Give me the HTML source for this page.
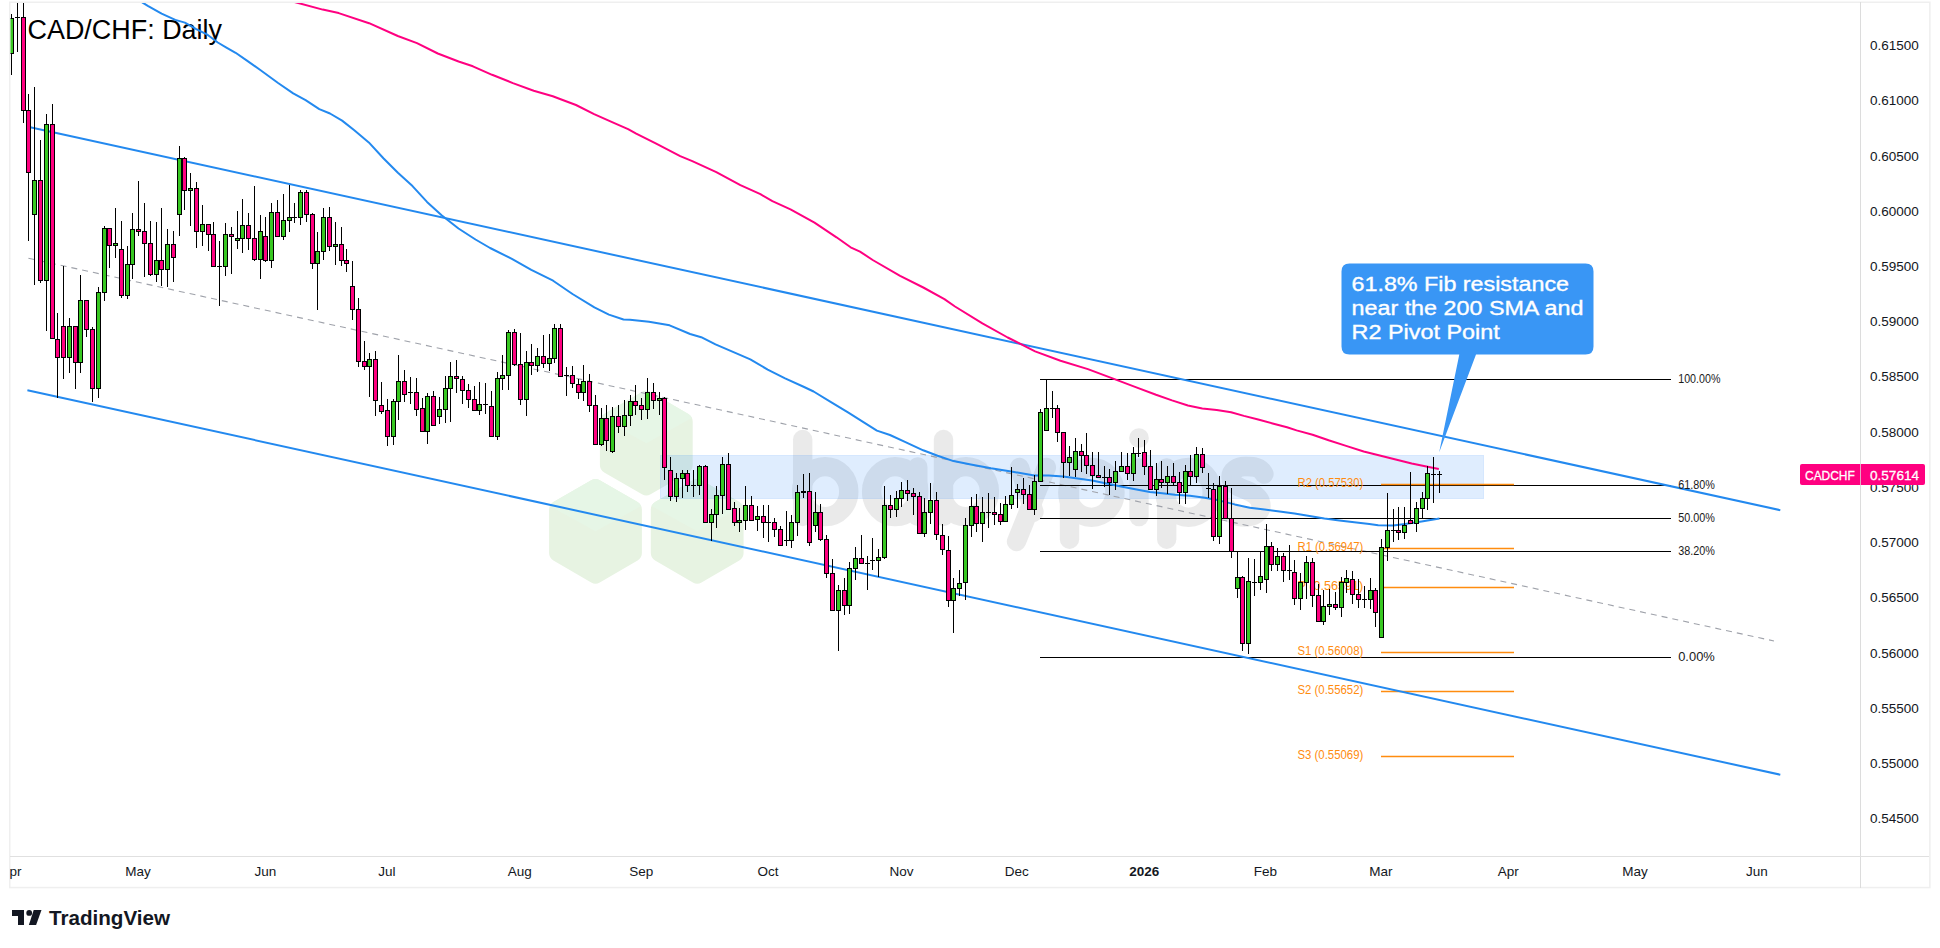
<!DOCTYPE html><html><head><meta charset="utf-8"><style>html,body{margin:0;padding:0;background:#fff;width:1940px;height:948px;overflow:hidden}svg{display:block}text{font-family:"Liberation Sans",sans-serif}</style></head><body>
<svg width="1940" height="948" viewBox="0 0 1940 948">
<defs><clipPath id="cp"><rect x="10" y="3" width="1850" height="853"/></clipPath></defs>
<rect width="1940" height="948" fill="#fff"/>
<g clip-path="url(#cp)">
<clipPath id="hx0"><path d="M642.0,392.1Q646.3,389.6 650.6,392.1L688.4,413.9Q692.7,416.4 692.7,421.4L692.7,465.0Q692.7,470.0 688.4,472.5L650.6,494.3Q646.3,496.8 642.0,494.3L604.2,472.5Q599.9,470.0 599.9,465.0L599.9,421.4Q599.9,416.4 604.2,413.9Z"/></clipPath>
<g clip-path="url(#hx0)">
<rect x="592.6999999999999" y="389.59999999999997" width="107.2" height="107.2" fill="#e7f3e2"/>
<path d="M646.3,387.6L694.7,416.4L646.3,443.2L597.9,416.4Z" fill="#e6f6e6"/>
</g>
<clipPath id="hx1"><path d="M591.2,480.2Q595.5,477.7 599.8,480.2L637.6,502.0Q641.9,504.5 641.9,509.5L641.9,553.1Q641.9,558.1 637.6,560.6L599.8,582.4Q595.5,584.9 591.2,582.4L553.4,560.6Q549.1,558.1 549.1,553.1L549.1,509.5Q549.1,504.5 553.4,502.0Z"/></clipPath>
<g clip-path="url(#hx1)">
<rect x="541.9" y="477.69999999999993" width="107.2" height="107.2" fill="#e7f3e2"/>
<path d="M595.5,475.7L643.9,504.5L595.5,531.3L547.1,504.5Z" fill="#e6f6e6"/>
</g>
<clipPath id="hx2"><path d="M692.9,480.2Q697.2,477.7 701.5,480.2L739.3,502.0Q743.6,504.5 743.6,509.5L743.6,553.1Q743.6,558.1 739.3,560.6L701.5,582.4Q697.2,584.9 692.9,582.4L655.1,560.6Q650.8,558.1 650.8,553.1L650.8,509.5Q650.8,504.5 655.1,502.0Z"/></clipPath>
<g clip-path="url(#hx2)">
<rect x="643.6" y="477.69999999999993" width="107.2" height="107.2" fill="#e7f3e2"/>
<path d="M697.2,475.7L745.6,504.5L697.2,531.3L648.8,504.5Z" fill="#e6f6e6"/>
</g>
<g opacity="0.08" stroke="#000" stroke-width="19.3" stroke-linecap="round" fill="#000"><line x1="802.7" y1="439.5" x2="802.7" y2="516.5"/><ellipse cx="825.2" cy="491.6" rx="23.6" ry="25" fill="none"/><ellipse cx="895.2" cy="491.6" rx="23.6" ry="25" fill="none"/><line x1="917.8" y1="466.9" x2="917.8" y2="516.4"/><line x1="943.5" y1="439.5" x2="943.5" y2="516.5"/><ellipse cx="965.8" cy="491.6" rx="23.6" ry="25" fill="none"/><line x1="1046.4" y1="467.5" x2="1016.5" y2="541.5"/><line x1="1019.5" y1="467.5" x2="1034" y2="512"/><line x1="1069.5" y1="467.8" x2="1069.5" y2="539.3"/><ellipse cx="1091.4" cy="492.3" rx="23.6" ry="25" fill="none"/><line x1="1139" y1="467.8" x2="1139" y2="516.6"/><circle cx="1139" cy="438" r="9.8" stroke="none"/><line x1="1166.7" y1="467.8" x2="1166.7" y2="539.3"/><ellipse cx="1188.6" cy="492.3" rx="23.6" ry="25" fill="none"/><path fill="none" d="M1264,474C1260,466 1252,466.5 1245,466.5C1237,466.5 1231,471 1231,477C1231,484 1238,487 1246,490C1255,493.5 1261,498 1261,506C1261,513 1253,517 1245,517C1237,517 1230,514 1227,508"/></g>
<text x="27.5" y="38.8" font-size="27" fill="#000" textLength="194.5" lengthAdjust="spacingAndGlyphs">CAD/CHF: Daily</text>
<rect x="660" y="455" width="824" height="44" fill="rgba(30,130,250,0.14)"/><rect x="660.5" y="455.5" width="823" height="43" fill="none" stroke="rgba(30,130,250,0.05)" stroke-width="1"/>
<line x1="28.4" y1="258.2" x2="1774" y2="641" stroke="#9fa2aa" stroke-width="1.1" stroke-dasharray="6 5"/>
<line x1="1040" y1="379.5" x2="1671" y2="379.5" stroke="#000" stroke-width="1"/>
<line x1="1040" y1="485.5" x2="1671" y2="485.5" stroke="#000" stroke-width="1"/>
<line x1="1040" y1="518.5" x2="1671" y2="518.5" stroke="#000" stroke-width="1"/>
<line x1="1040" y1="551.5" x2="1671" y2="551.5" stroke="#000" stroke-width="1"/>
<line x1="1040" y1="657.5" x2="1671" y2="657.5" stroke="#000" stroke-width="1"/>
<line x1="1381" y1="484.5" x2="1514" y2="484.5" stroke="#ff8c0f" stroke-width="1.3"/>
<line x1="1381" y1="548.5" x2="1514" y2="548.5" stroke="#ff8c0f" stroke-width="1.3"/>
<line x1="1381" y1="587.5" x2="1514" y2="587.5" stroke="#ff8c0f" stroke-width="1.3"/>
<line x1="1381" y1="652.5" x2="1514" y2="652.5" stroke="#ff8c0f" stroke-width="1.3"/>
<line x1="1381" y1="691.5" x2="1514" y2="691.5" stroke="#ff8c0f" stroke-width="1.3"/>
<line x1="1381" y1="756.5" x2="1514" y2="756.5" stroke="#ff8c0f" stroke-width="1.3"/>
<line x1="29" y1="127" x2="1780.3" y2="510.2" stroke="#2389ef" stroke-width="2"/>
<line x1="27.4" y1="390.2" x2="1780.3" y2="774.7" stroke="#2389ef" stroke-width="2"/>
<polyline points="141.7,2.1 147.8,5.8 161.6,13.7 175.3,19.9 184.9,22.6 195.8,28.8 206.8,34.3 217.8,42.5 226,47.3 235.6,52.8 246.6,60.4 260.3,70 278.1,83 293.2,93.3 305.6,100.1 319.3,109.1 330,113.5 342.1,120.6 354.3,130.3 368.8,142.4 383.4,158.2 397.9,172.8 412.5,186.1 427,201.9 441.6,215.2 458.5,228.5 475.5,239.5 490.1,248 511.9,258.9 531.3,269.8 553.1,280.7 572.5,294 594.4,307.4 608.9,314.6 623.5,319.5 630,319.8 649,321.8 669.6,325.3 690.1,334 701.2,337.2 715.5,344.3 737.6,353.8 750.3,359.3 767.7,369.6 785.1,378.3 804.1,387 813.6,391.5 831,402.1 848.4,412.7 864.2,422.6 876.9,430.6 890,435 904.4,441.6 923.2,450.3 937.6,455.8 953.5,461.1 970.8,464.5 991,468.3 1012.7,471.7 1034.3,475.6 1048.8,475.6 1063.2,476.6 1077.6,478.5 1092.1,480.6 1106.5,483.5 1120.9,486.4 1135.3,489.3 1149.8,491.9 1160,492.9 1175,494.7 1189.9,495.7 1204.8,497.7 1219.8,500.6 1234.7,504.4 1249.7,507.7 1264.6,509.6 1279.6,511.6 1294.5,513.6 1309.5,516 1324.4,518.6 1339.4,520.5 1354.3,522.3 1369.3,524.1 1378.2,525.3 1393.2,525.6 1405.1,524.1 1421.6,521.6 1439.5,518.6" fill="none" stroke="#2389ef" stroke-width="2" stroke-linejoin="round"/>
<polyline points="285,-1 294,1.9 322.7,9.6 338.7,13.1 369.1,23.2 397.8,36 417,43.1 437.8,53.5 458.6,61.5 472.9,66.3 492.1,74.8 512.9,83.1 533.7,90.8 552.8,96.2 560,99 576,105 594.1,114.1 612.1,122.1 628.1,129.1 636.2,133.7 656.2,143.7 680.2,156.2 692.3,161.2 716.3,172.2 740.4,185.2 760.4,194.2 772.4,201.2 790.5,209.3 814.5,222.7 836.5,237.3 850.6,247.3 860,251.6 872.7,260 900.1,275.9 923.3,287.5 944.4,299.1 955,306.5 982.4,323.4 1007.7,337.5 1035.1,351.4 1060.5,360.7 1087.9,369.1 1113.2,378.6 1137,387.6 1156,394.8 1172,400.4 1187.9,405.5 1202.3,408.4 1216.7,410 1231.1,412.3 1243.9,415.9 1258.2,419.5 1272.6,423.5 1287,427.2 1296.6,430.4 1312.6,434.7 1328.6,440.3 1346.1,445.9 1363.7,451.5 1379.7,455.5 1395.7,459.5 1411.7,463.5 1427.6,466.7 1438.8,469.1" fill="none" stroke="#ff0080" stroke-width="2" stroke-linejoin="round"/>
<text x="1297.5" y="486.8" font-size="12" fill="#ff8c0f" textLength="65.8" lengthAdjust="spacingAndGlyphs">R2 (0.57530)</text>
<text x="1297.5" y="550.8" font-size="12" fill="#ff8c0f" textLength="65.8" lengthAdjust="spacingAndGlyphs">R1 (0.56947)</text>
<text x="1297.5" y="589.8" font-size="12" fill="#ff8c0f" textLength="65.8" lengthAdjust="spacingAndGlyphs">P (0.56591)</text>
<text x="1297.5" y="654.8" font-size="12" fill="#ff8c0f" textLength="65.8" lengthAdjust="spacingAndGlyphs">S1 (0.56008)</text>
<text x="1297.5" y="693.8" font-size="12" fill="#ff8c0f" textLength="65.8" lengthAdjust="spacingAndGlyphs">S2 (0.55652)</text>
<text x="1297.5" y="758.8" font-size="12" fill="#ff8c0f" textLength="65.8" lengthAdjust="spacingAndGlyphs">S3 (0.55069)</text>
<path d="M11,14h1V75h-1ZM17,0h1V52h-1ZM23,0h1V123h-1ZM28,94h1V241h-1ZM34,87h1V285h-1ZM40,140h1V283h-1ZM46,114h1V331h-1ZM52,104h1V338h-1ZM57,313h1V398h-1ZM63,266h1V379h-1ZM69,318h1V373h-1ZM75,326h1V389h-1ZM80,275h1V373h-1ZM86,300h1V337h-1ZM92,327h1V402h-1ZM98,287h1V398h-1ZM104,226h1V301h-1ZM109,228h1V268h-1ZM115,208h1V258h-1ZM121,221h1V298h-1ZM127,246h1V299h-1ZM132,213h1V279h-1ZM138,181h1V236h-1ZM144,203h1V277h-1ZM150,221h1V276h-1ZM156,222h1V282h-1ZM161,208h1V286h-1ZM167,229h1V287h-1ZM173,231h1V282h-1ZM179,146h1V236h-1ZM184,157h1V210h-1ZM190,173h1V226h-1ZM196,182h1V248h-1ZM202,205h1V246h-1ZM208,224h1V251h-1ZM213,222h1V266h-1ZM219,241h1V306h-1ZM225,223h1V276h-1ZM231,227h1V274h-1ZM237,211h1V249h-1ZM242,199h1V253h-1ZM248,213h1V250h-1ZM254,186h1V261h-1ZM260,215h1V279h-1ZM265,217h1V262h-1ZM271,203h1V268h-1ZM277,200h1V236h-1ZM283,194h1V240h-1ZM289,185h1V232h-1ZM294,203h1V223h-1ZM300,190h1V225h-1ZM306,190h1V222h-1ZM312,213h1V269h-1ZM317,232h1V310h-1ZM323,208h1V260h-1ZM329,207h1V251h-1ZM335,222h1V265h-1ZM341,227h1V266h-1ZM346,249h1V272h-1ZM352,261h1V320h-1ZM358,298h1V367h-1ZM364,341h1V370h-1ZM369,353h1V397h-1ZM375,351h1V416h-1ZM381,382h1V414h-1ZM387,399h1V446h-1ZM393,399h1V445h-1ZM398,355h1V420h-1ZM404,370h1V402h-1ZM410,377h1V404h-1ZM416,378h1V416h-1ZM422,398h1V431h-1ZM427,393h1V444h-1ZM433,391h1V425h-1ZM439,397h1V424h-1ZM445,376h1V423h-1ZM450,362h1V422h-1ZM456,360h1V393h-1ZM462,376h1V404h-1ZM468,384h1V408h-1ZM474,386h1V411h-1ZM479,382h1V415h-1ZM485,383h1V414h-1ZM491,391h1V436h-1ZM497,372h1V440h-1ZM502,355h1V390h-1ZM508,330h1V390h-1ZM514,329h1V366h-1ZM520,333h1V405h-1ZM526,351h1V416h-1ZM531,344h1V375h-1ZM537,348h1V372h-1ZM543,335h1V368h-1ZM549,334h1V371h-1ZM554,324h1V363h-1ZM560,324h1V376h-1ZM566,367h1V396h-1ZM572,366h1V388h-1ZM578,379h1V399h-1ZM583,365h1V401h-1ZM589,374h1V412h-1ZM595,395h1V444h-1ZM601,408h1V446h-1ZM606,405h1V451h-1ZM612,407h1V453h-1ZM618,405h1V433h-1ZM624,400h1V436h-1ZM630,395h1V426h-1ZM635,385h1V415h-1ZM641,398h1V420h-1ZM647,378h1V419h-1ZM653,383h1V409h-1ZM659,392h1V415h-1ZM664,397h1V480h-1ZM670,457h1V501h-1ZM676,473h1V502h-1ZM682,470h1V498h-1ZM687,470h1V492h-1ZM693,470h1V497h-1ZM699,465h1V495h-1ZM705,465h1V523h-1ZM711,509h1V541h-1ZM716,486h1V528h-1ZM722,457h1V514h-1ZM728,453h1V510h-1ZM734,502h1V526h-1ZM739,508h1V532h-1ZM745,486h1V530h-1ZM751,496h1V521h-1ZM757,506h1V531h-1ZM763,505h1V538h-1ZM768,505h1V542h-1ZM774,518h1V537h-1ZM780,526h1V545h-1ZM786,511h1V546h-1ZM791,515h1V548h-1ZM797,485h1V536h-1ZM803,474h1V498h-1ZM809,473h1V546h-1ZM815,492h1V532h-1ZM820,504h1V541h-1ZM826,535h1V578h-1ZM832,559h1V611h-1ZM838,585h1V651h-1ZM844,578h1V615h-1ZM849,562h1V614h-1ZM855,547h1V580h-1ZM861,535h1V564h-1ZM867,556h1V590h-1ZM872,538h1V570h-1ZM878,549h1V577h-1ZM884,486h1V559h-1ZM890,495h1V518h-1ZM896,491h1V517h-1ZM901,482h1V507h-1ZM907,480h1V501h-1ZM913,488h1V515h-1ZM919,492h1V533h-1ZM924,498h1V537h-1ZM930,483h1V524h-1ZM936,492h1V540h-1ZM942,524h1V555h-1ZM948,536h1V607h-1ZM953,578h1V633h-1ZM959,570h1V596h-1ZM965,518h1V600h-1ZM971,497h1V537h-1ZM976,494h1V532h-1ZM982,497h1V542h-1ZM988,493h1V528h-1ZM994,497h1V525h-1ZM1000,503h1V525h-1ZM1005,496h1V521h-1ZM1011,467h1V509h-1ZM1017,484h1V508h-1ZM1023,478h1V504h-1ZM1029,485h1V510h-1ZM1034,475h1V515h-1ZM1040,409h1V482h-1ZM1046,380h1V430h-1ZM1052,391h1V418h-1ZM1057,405h1V442h-1ZM1063,432h1V478h-1ZM1069,446h1V476h-1ZM1075,438h1V477h-1ZM1081,444h1V472h-1ZM1086,433h1V474h-1ZM1092,452h1V489h-1ZM1098,452h1V477h-1ZM1104,466h1V487h-1ZM1109,469h1V495h-1ZM1115,461h1V490h-1ZM1121,452h1V471h-1ZM1127,453h1V480h-1ZM1133,447h1V481h-1ZM1138,438h1V457h-1ZM1144,440h1V475h-1ZM1150,450h1V489h-1ZM1156,463h1V496h-1ZM1161,461h1V488h-1ZM1167,466h1V494h-1ZM1173,463h1V485h-1ZM1179,472h1V504h-1ZM1185,465h1V504h-1ZM1190,455h1V486h-1ZM1196,447h1V483h-1ZM1202,448h1V473h-1ZM1208,473h1V498h-1ZM1213,483h1V541h-1ZM1219,476h1V544h-1ZM1225,481h1V518h-1ZM1231,488h1V558h-1ZM1237,552h1V598h-1ZM1242,576h1V651h-1ZM1248,558h1V654h-1ZM1254,559h1V596h-1ZM1260,552h1V590h-1ZM1266,524h1V593h-1ZM1271,542h1V571h-1ZM1277,548h1V571h-1ZM1283,553h1V582h-1ZM1289,545h1V580h-1ZM1294,560h1V605h-1ZM1300,573h1V610h-1ZM1306,556h1V599h-1ZM1312,558h1V607h-1ZM1318,584h1V621h-1ZM1323,590h1V625h-1ZM1329,589h1V615h-1ZM1335,592h1V610h-1ZM1341,577h1V617h-1ZM1346,570h1V593h-1ZM1352,571h1V604h-1ZM1358,579h1V608h-1ZM1364,586h1V608h-1ZM1370,578h1V609h-1ZM1375,588h1V627h-1ZM1381,539h1V638h-1ZM1387,493h1V561h-1ZM1393,509h1V542h-1ZM1398,507h1V540h-1ZM1404,507h1V539h-1ZM1410,472h1V523h-1ZM1416,502h1V532h-1ZM1422,492h1V518h-1ZM1427,466h1V510h-1ZM1433,457h1V503h-1ZM1439,471h1V493h-1Z" fill="#000"/>
<path d="M9,18h5V54h-5ZM15,17h5V18h-5ZM21,17h5V111h-5ZM26,110h5V173h-5ZM32,180h5V215h-5ZM38,180h5V281h-5ZM44,124h5V281h-5ZM50,124h5V339h-5ZM55,339h5V358h-5ZM61,326h5V358h-5ZM67,326h5V358h-5ZM73,326h5V363h-5ZM78,300h5V363h-5ZM84,300h5V330h-5ZM90,329h5V389h-5ZM96,292h5V389h-5ZM102,228h5V293h-5ZM107,228h5V246h-5ZM113,243h5V246h-5ZM119,249h5V296h-5ZM125,264h5V296h-5ZM130,229h5V265h-5ZM136,229h5V232h-5ZM142,231h5V244h-5ZM148,243h5V275h-5ZM154,260h5V275h-5ZM159,260h5V270h-5ZM165,244h5V270h-5ZM171,244h5V258h-5ZM177,158h5V215h-5ZM182,158h5V191h-5ZM188,188h5V191h-5ZM194,188h5V232h-5ZM200,224h5V232h-5ZM206,224h5V235h-5ZM211,234h5V267h-5ZM217,266h5V267h-5ZM223,234h5V267h-5ZM229,234h5V237h-5ZM235,238h5V241h-5ZM240,225h5V239h-5ZM246,225h5V239h-5ZM252,238h5V260h-5ZM258,231h5V260h-5ZM263,236h5V261h-5ZM269,212h5V261h-5ZM275,212h5V237h-5ZM281,220h5V237h-5ZM287,217h5V221h-5ZM292,217h5V218h-5ZM298,192h5V218h-5ZM304,192h5V215h-5ZM310,214h5V264h-5ZM315,251h5V264h-5ZM321,217h5V252h-5ZM327,217h5V247h-5ZM333,244h5V247h-5ZM339,244h5V261h-5ZM344,260h5V264h-5ZM350,286h5V310h-5ZM356,309h5V362h-5ZM362,361h5V367h-5ZM367,359h5V367h-5ZM373,359h5V401h-5ZM379,405h5V412h-5ZM385,410h5V437h-5ZM391,401h5V437h-5ZM396,381h5V402h-5ZM402,381h5V395h-5ZM408,392h5V393h-5ZM414,392h5V410h-5ZM420,408h5V432h-5ZM425,396h5V432h-5ZM431,396h5V426h-5ZM437,409h5V417h-5ZM443,388h5V410h-5ZM448,376h5V389h-5ZM454,376h5V379h-5ZM460,379h5V391h-5ZM466,390h5V400h-5ZM472,399h5V411h-5ZM477,404h5V411h-5ZM483,404h5V405h-5ZM489,406h5V437h-5ZM495,378h5V437h-5ZM500,375h5V379h-5ZM506,332h5V376h-5ZM512,332h5V365h-5ZM518,364h5V400h-5ZM524,362h5V400h-5ZM529,362h5V366h-5ZM535,356h5V366h-5ZM541,356h5V364h-5ZM547,358h5V364h-5ZM552,328h5V359h-5ZM558,328h5V377h-5ZM564,375h5V376h-5ZM570,375h5V384h-5ZM576,384h5V393h-5ZM581,381h5V393h-5ZM587,381h5V406h-5ZM593,405h5V445h-5ZM599,418h5V445h-5ZM604,418h5V441h-5ZM610,416h5V452h-5ZM616,416h5V427h-5ZM622,415h5V427h-5ZM628,401h5V416h-5ZM633,401h5V406h-5ZM639,405h5V410h-5ZM645,392h5V410h-5ZM651,392h5V401h-5ZM657,398h5V401h-5ZM662,398h5V468h-5ZM668,470h5V497h-5ZM674,478h5V497h-5ZM680,473h5V479h-5ZM685,473h5V486h-5ZM691,485h5V486h-5ZM697,466h5V486h-5ZM703,466h5V523h-5ZM709,514h5V523h-5ZM714,495h5V515h-5ZM720,464h5V496h-5ZM726,464h5V510h-5ZM732,508h5V523h-5ZM737,520h5V523h-5ZM743,505h5V521h-5ZM749,505h5V521h-5ZM755,516h5V520h-5ZM761,516h5V523h-5ZM766,522h5V523h-5ZM772,522h5V530h-5ZM778,529h5V546h-5ZM784,540h5V541h-5ZM789,522h5V541h-5ZM795,492h5V523h-5ZM801,491h5V493h-5ZM807,491h5V543h-5ZM813,512h5V526h-5ZM818,512h5V540h-5ZM824,539h5V574h-5ZM830,573h5V611h-5ZM836,590h5V611h-5ZM842,590h5V606h-5ZM847,568h5V606h-5ZM853,558h5V569h-5ZM859,558h5V564h-5ZM865,563h5V564h-5ZM870,560h5V561h-5ZM876,557h5V561h-5ZM882,505h5V558h-5ZM888,505h5V510h-5ZM894,498h5V510h-5ZM899,490h5V499h-5ZM905,490h5V494h-5ZM911,493h5V497h-5ZM917,496h5V534h-5ZM922,512h5V534h-5ZM928,500h5V513h-5ZM934,500h5V535h-5ZM940,535h5V550h-5ZM946,550h5V601h-5ZM951,588h5V601h-5ZM957,583h5V589h-5ZM963,525h5V583h-5ZM969,506h5V526h-5ZM974,506h5V524h-5ZM980,512h5V524h-5ZM986,512h5V513h-5ZM992,512h5V515h-5ZM998,514h5V522h-5ZM1003,504h5V522h-5ZM1009,495h5V505h-5ZM1015,489h5V493h-5ZM1021,489h5V495h-5ZM1027,494h5V510h-5ZM1032,481h5V510h-5ZM1038,412h5V482h-5ZM1044,408h5V431h-5ZM1050,408h5V409h-5ZM1055,408h5V433h-5ZM1061,432h5V463h-5ZM1067,457h5V463h-5ZM1073,451h5V470h-5ZM1079,451h5V456h-5ZM1084,455h5V466h-5ZM1090,465h5V476h-5ZM1096,475h5V478h-5ZM1102,477h5V478h-5ZM1107,477h5V483h-5ZM1113,471h5V483h-5ZM1119,466h5V472h-5ZM1125,466h5V474h-5ZM1131,453h5V474h-5ZM1136,453h5V454h-5ZM1142,452h5V467h-5ZM1148,466h5V490h-5ZM1154,479h5V490h-5ZM1159,479h5V483h-5ZM1165,476h5V483h-5ZM1171,476h5V483h-5ZM1177,482h5V493h-5ZM1183,471h5V493h-5ZM1188,471h5V477h-5ZM1194,454h5V477h-5ZM1200,454h5V468h-5ZM1206,488h5V489h-5ZM1211,489h5V537h-5ZM1217,486h5V537h-5ZM1223,486h5V519h-5ZM1229,518h5V552h-5ZM1235,577h5V589h-5ZM1240,577h5V644h-5ZM1246,581h5V644h-5ZM1252,582h5V583h-5ZM1258,576h5V583h-5ZM1264,546h5V580h-5ZM1269,546h5V565h-5ZM1275,556h5V565h-5ZM1281,556h5V571h-5ZM1287,570h5V571h-5ZM1292,572h5V599h-5ZM1298,582h5V599h-5ZM1304,562h5V583h-5ZM1310,562h5V596h-5ZM1316,595h5V622h-5ZM1321,606h5V622h-5ZM1327,604h5V607h-5ZM1333,604h5V608h-5ZM1339,582h5V608h-5ZM1344,578h5V583h-5ZM1350,579h5V595h-5ZM1356,594h5V600h-5ZM1362,599h5V600h-5ZM1368,590h5V600h-5ZM1373,590h5V613h-5ZM1379,547h5V638h-5ZM1385,530h5V548h-5ZM1391,530h5V531h-5ZM1396,530h5V533h-5ZM1402,525h5V533h-5ZM1408,520h5V524h-5ZM1414,508h5V524h-5ZM1420,498h5V509h-5ZM1425,473h5V499h-5ZM1431,474h5V475h-5ZM1437,474h5V475h-5Z" fill="#000"/>
<path d="M10,19h3V53h-3ZM33,181h3V214h-3ZM45,125h3V280h-3ZM68,327h3V357h-3ZM79,301h3V362h-3ZM97,293h3V388h-3ZM103,229h3V292h-3ZM114,244h3V245h-3ZM126,265h3V295h-3ZM131,230h3V264h-3ZM155,261h3V274h-3ZM166,245h3V269h-3ZM178,159h3V214h-3ZM189,189h3V190h-3ZM201,225h3V231h-3ZM224,235h3V266h-3ZM236,239h3V240h-3ZM241,226h3V238h-3ZM259,232h3V259h-3ZM270,213h3V260h-3ZM282,221h3V236h-3ZM288,218h3V220h-3ZM299,193h3V217h-3ZM316,252h3V263h-3ZM322,218h3V251h-3ZM334,245h3V246h-3ZM368,360h3V366h-3ZM392,402h3V436h-3ZM397,382h3V401h-3ZM426,397h3V431h-3ZM438,410h3V416h-3ZM444,389h3V409h-3ZM449,377h3V388h-3ZM478,405h3V410h-3ZM496,379h3V436h-3ZM501,376h3V378h-3ZM507,333h3V375h-3ZM525,363h3V399h-3ZM536,357h3V365h-3ZM548,359h3V363h-3ZM553,329h3V358h-3ZM582,382h3V392h-3ZM600,419h3V444h-3ZM611,417h3V451h-3ZM623,416h3V426h-3ZM629,402h3V415h-3ZM646,393h3V409h-3ZM658,399h3V400h-3ZM675,479h3V496h-3ZM681,474h3V478h-3ZM698,467h3V485h-3ZM710,515h3V522h-3ZM715,496h3V514h-3ZM721,465h3V495h-3ZM738,521h3V522h-3ZM744,506h3V520h-3ZM756,517h3V519h-3ZM790,523h3V540h-3ZM796,493h3V522h-3ZM814,513h3V525h-3ZM837,591h3V610h-3ZM848,569h3V605h-3ZM854,559h3V568h-3ZM877,558h3V560h-3ZM883,506h3V557h-3ZM895,499h3V509h-3ZM900,491h3V498h-3ZM923,513h3V533h-3ZM929,501h3V512h-3ZM952,589h3V600h-3ZM958,584h3V588h-3ZM964,526h3V582h-3ZM970,507h3V525h-3ZM981,513h3V523h-3ZM1004,505h3V521h-3ZM1010,496h3V504h-3ZM1016,490h3V492h-3ZM1033,482h3V509h-3ZM1039,413h3V481h-3ZM1045,409h3V430h-3ZM1068,458h3V462h-3ZM1074,452h3V469h-3ZM1114,472h3V482h-3ZM1120,467h3V471h-3ZM1132,454h3V473h-3ZM1155,480h3V489h-3ZM1166,477h3V482h-3ZM1184,472h3V492h-3ZM1195,455h3V476h-3ZM1218,487h3V536h-3ZM1236,578h3V588h-3ZM1247,582h3V643h-3ZM1259,577h3V582h-3ZM1265,547h3V579h-3ZM1276,557h3V564h-3ZM1299,583h3V598h-3ZM1305,563h3V582h-3ZM1322,607h3V621h-3ZM1328,605h3V606h-3ZM1340,583h3V607h-3ZM1345,579h3V582h-3ZM1369,591h3V599h-3ZM1380,548h3V637h-3ZM1386,531h3V547h-3ZM1403,526h3V532h-3ZM1415,509h3V523h-3ZM1421,499h3V508h-3ZM1426,474h3V498h-3Z" fill="#38c822"/>
<path d="M22,18h3V110h-3ZM27,111h3V172h-3ZM39,181h3V280h-3ZM51,125h3V338h-3ZM56,340h3V357h-3ZM62,327h3V357h-3ZM74,327h3V362h-3ZM85,301h3V329h-3ZM91,330h3V388h-3ZM108,229h3V245h-3ZM120,250h3V295h-3ZM137,230h3V231h-3ZM143,232h3V243h-3ZM149,244h3V274h-3ZM160,261h3V269h-3ZM172,245h3V257h-3ZM183,159h3V190h-3ZM195,189h3V231h-3ZM207,225h3V234h-3ZM212,235h3V266h-3ZM230,235h3V236h-3ZM247,226h3V238h-3ZM253,239h3V259h-3ZM264,237h3V260h-3ZM276,213h3V236h-3ZM305,193h3V214h-3ZM311,215h3V263h-3ZM328,218h3V246h-3ZM340,245h3V260h-3ZM345,261h3V263h-3ZM351,287h3V309h-3ZM357,310h3V361h-3ZM363,362h3V366h-3ZM374,360h3V400h-3ZM380,406h3V411h-3ZM386,411h3V436h-3ZM403,382h3V394h-3ZM415,393h3V409h-3ZM421,409h3V431h-3ZM432,397h3V425h-3ZM455,377h3V378h-3ZM461,380h3V390h-3ZM467,391h3V399h-3ZM473,400h3V410h-3ZM490,407h3V436h-3ZM513,333h3V364h-3ZM519,365h3V399h-3ZM530,363h3V365h-3ZM542,357h3V363h-3ZM559,329h3V376h-3ZM571,376h3V383h-3ZM577,385h3V392h-3ZM588,382h3V405h-3ZM594,406h3V444h-3ZM605,419h3V440h-3ZM617,417h3V426h-3ZM634,402h3V405h-3ZM640,406h3V409h-3ZM652,393h3V400h-3ZM663,399h3V467h-3ZM669,471h3V496h-3ZM686,474h3V485h-3ZM704,467h3V522h-3ZM727,465h3V509h-3ZM733,509h3V522h-3ZM750,506h3V520h-3ZM762,517h3V522h-3ZM773,523h3V529h-3ZM779,530h3V545h-3ZM808,492h3V542h-3ZM819,513h3V539h-3ZM825,540h3V573h-3ZM831,574h3V610h-3ZM843,591h3V605h-3ZM860,559h3V563h-3ZM889,506h3V509h-3ZM906,491h3V493h-3ZM912,494h3V496h-3ZM918,497h3V533h-3ZM935,501h3V534h-3ZM941,536h3V549h-3ZM947,551h3V600h-3ZM975,507h3V523h-3ZM993,513h3V514h-3ZM999,515h3V521h-3ZM1022,490h3V494h-3ZM1028,495h3V509h-3ZM1056,409h3V432h-3ZM1062,433h3V462h-3ZM1080,452h3V455h-3ZM1085,456h3V465h-3ZM1091,466h3V475h-3ZM1097,476h3V477h-3ZM1108,478h3V482h-3ZM1126,467h3V473h-3ZM1143,453h3V466h-3ZM1149,467h3V489h-3ZM1160,480h3V482h-3ZM1172,477h3V482h-3ZM1178,483h3V492h-3ZM1189,472h3V476h-3ZM1201,455h3V467h-3ZM1212,490h3V536h-3ZM1224,487h3V518h-3ZM1230,519h3V551h-3ZM1241,578h3V643h-3ZM1270,547h3V564h-3ZM1282,557h3V570h-3ZM1293,573h3V598h-3ZM1311,563h3V595h-3ZM1317,596h3V621h-3ZM1334,605h3V607h-3ZM1351,580h3V594h-3ZM1357,595h3V599h-3ZM1374,591h3V612h-3ZM1397,531h3V532h-3ZM1409,521h3V523h-3Z" fill="#ff0080"/>
<text x="1678.2" y="383.2" font-size="12.2" fill="#1a1a1a" textLength="42.2" lengthAdjust="spacingAndGlyphs">100.00%</text>
<text x="1678.2" y="489.2" font-size="12.2" fill="#1a1a1a" textLength="36.6" lengthAdjust="spacingAndGlyphs">61.80%</text>
<text x="1678.2" y="522.2" font-size="12.2" fill="#1a1a1a" textLength="36.6" lengthAdjust="spacingAndGlyphs">50.00%</text>
<text x="1678.2" y="555.2" font-size="12.2" fill="#1a1a1a" textLength="36.6" lengthAdjust="spacingAndGlyphs">38.20%</text>
<text x="1678.2" y="661.2" font-size="12.2" fill="#1a1a1a" textLength="36.6" lengthAdjust="spacingAndGlyphs">0.00%</text>
</g>
<path d="M1349.5,263.5H1585.5Q1593.5,263.5 1593.5,271.5V346.5Q1593.5,354.5 1585.5,354.5H1476L1439.2,452.2L1459.3,354.5H1349.5Q1341.5,354.5 1341.5,346.5V271.5Q1341.5,263.5 1349.5,263.5Z" fill="#3996f5"/>
<text font-size="20" fill="#fff" stroke="#fff" stroke-width="0.35"><tspan x="1351.5" y="291.3" textLength="217.5" lengthAdjust="spacingAndGlyphs">61.8% Fib resistance</tspan><tspan x="1351.5" y="315.1" textLength="232" lengthAdjust="spacingAndGlyphs">near the 200 SMA and</tspan><tspan x="1351.5" y="338.9" textLength="148.2" lengthAdjust="spacingAndGlyphs">R2 Pivot Point</tspan></text>
<rect x="9.75" y="2.25" width="1920.1" height="885.3" fill="none" stroke="#efefef" stroke-width="1.5"/>
<line x1="1860.5" y1="2" x2="1860.5" y2="888" stroke="#dcdcdc" stroke-width="1"/>
<line x1="10" y1="856.5" x2="1929" y2="856.5" stroke="#e0e0e0" stroke-width="1"/>
<text x="1870" y="50.2" font-size="13.6" fill="#131722" textLength="48.8" lengthAdjust="spacingAndGlyphs">0.61500</text>
<text x="1870" y="105.4" font-size="13.6" fill="#131722" textLength="48.8" lengthAdjust="spacingAndGlyphs">0.61000</text>
<text x="1870" y="160.6" font-size="13.6" fill="#131722" textLength="48.8" lengthAdjust="spacingAndGlyphs">0.60500</text>
<text x="1870" y="215.8" font-size="13.6" fill="#131722" textLength="48.8" lengthAdjust="spacingAndGlyphs">0.60000</text>
<text x="1870" y="271.0" font-size="13.6" fill="#131722" textLength="48.8" lengthAdjust="spacingAndGlyphs">0.59500</text>
<text x="1870" y="326.2" font-size="13.6" fill="#131722" textLength="48.8" lengthAdjust="spacingAndGlyphs">0.59000</text>
<text x="1870" y="381.4" font-size="13.6" fill="#131722" textLength="48.8" lengthAdjust="spacingAndGlyphs">0.58500</text>
<text x="1870" y="436.6" font-size="13.6" fill="#131722" textLength="48.8" lengthAdjust="spacingAndGlyphs">0.58000</text>
<text x="1870" y="491.8" font-size="13.6" fill="#131722" textLength="48.8" lengthAdjust="spacingAndGlyphs">0.57500</text>
<text x="1870" y="547.0" font-size="13.6" fill="#131722" textLength="48.8" lengthAdjust="spacingAndGlyphs">0.57000</text>
<text x="1870" y="602.3" font-size="13.6" fill="#131722" textLength="48.8" lengthAdjust="spacingAndGlyphs">0.56500</text>
<text x="1870" y="657.5" font-size="13.6" fill="#131722" textLength="48.8" lengthAdjust="spacingAndGlyphs">0.56000</text>
<text x="1870" y="712.7" font-size="13.6" fill="#131722" textLength="48.8" lengthAdjust="spacingAndGlyphs">0.55500</text>
<text x="1870" y="767.9" font-size="13.6" fill="#131722" textLength="48.8" lengthAdjust="spacingAndGlyphs">0.55000</text>
<text x="1870" y="823.1" font-size="13.6" fill="#131722" textLength="48.8" lengthAdjust="spacingAndGlyphs">0.54500</text>
<svg x="10" y="857" width="1850" height="30"><g>
<text x="0.9" y="18.8" font-size="13.5" fill="#131722" text-anchor="middle">Apr</text>
<text x="128.1" y="18.8" font-size="13.5" fill="#131722" text-anchor="middle">May</text>
<text x="255.3" y="18.8" font-size="13.5" fill="#131722" text-anchor="middle">Jun</text>
<text x="376.9" y="18.8" font-size="13.5" fill="#131722" text-anchor="middle">Jul</text>
<text x="509.7" y="18.8" font-size="13.5" fill="#131722" text-anchor="middle">Aug</text>
<text x="631.2" y="18.8" font-size="13.5" fill="#131722" text-anchor="middle">Sep</text>
<text x="758.0" y="18.8" font-size="13.5" fill="#131722" text-anchor="middle">Oct</text>
<text x="891.4" y="18.8" font-size="13.5" fill="#131722" text-anchor="middle">Nov</text>
<text x="1006.8" y="18.8" font-size="13.5" fill="#131722" text-anchor="middle">Dec</text>
<text x="1134.2" y="18.8" font-size="13.5" fill="#131722" text-anchor="middle" font-weight="bold">2026</text>
<text x="1255.5" y="18.8" font-size="13.5" fill="#131722" text-anchor="middle">Feb</text>
<text x="1370.8" y="18.8" font-size="13.5" fill="#131722" text-anchor="middle">Mar</text>
<text x="1498.2" y="18.8" font-size="13.5" fill="#131722" text-anchor="middle">Apr</text>
<text x="1625.1" y="18.8" font-size="13.5" fill="#131722" text-anchor="middle">May</text>
<text x="1747.0" y="18.8" font-size="13.5" fill="#131722" text-anchor="middle">Jun</text>
</g></svg>
<path d="M1802,464H1923Q1925,464 1925,466V483Q1925,485 1923,485H1802Q1800,485 1800,483V466Q1800,464 1802,464Z" fill="#ff0080"/>
<line x1="1860.5" y1="464" x2="1860.5" y2="485" stroke="#e6a3c4" stroke-width="1"/>
<text x="1805" y="479.8" font-size="13.5" fill="#fff" stroke="#fff" stroke-width="0.3" textLength="49.8" lengthAdjust="spacingAndGlyphs">CADCHF</text>
<text x="1870" y="479.8" font-size="13.5" fill="#fff" stroke="#fff" stroke-width="0.3" textLength="49" lengthAdjust="spacingAndGlyphs">0.57614</text>
<g fill="#131722"><path d="M12,910H24V925H18V916H12Z"/><circle cx="29.2" cy="912.9" r="2.9"/><path d="M33.7,910H41.5L36.1,925H28.9Z"/></g>
<text x="49" y="924.8" font-size="20" font-weight="bold" fill="#131722" textLength="121" lengthAdjust="spacingAndGlyphs">TradingView</text>
</svg></body></html>
